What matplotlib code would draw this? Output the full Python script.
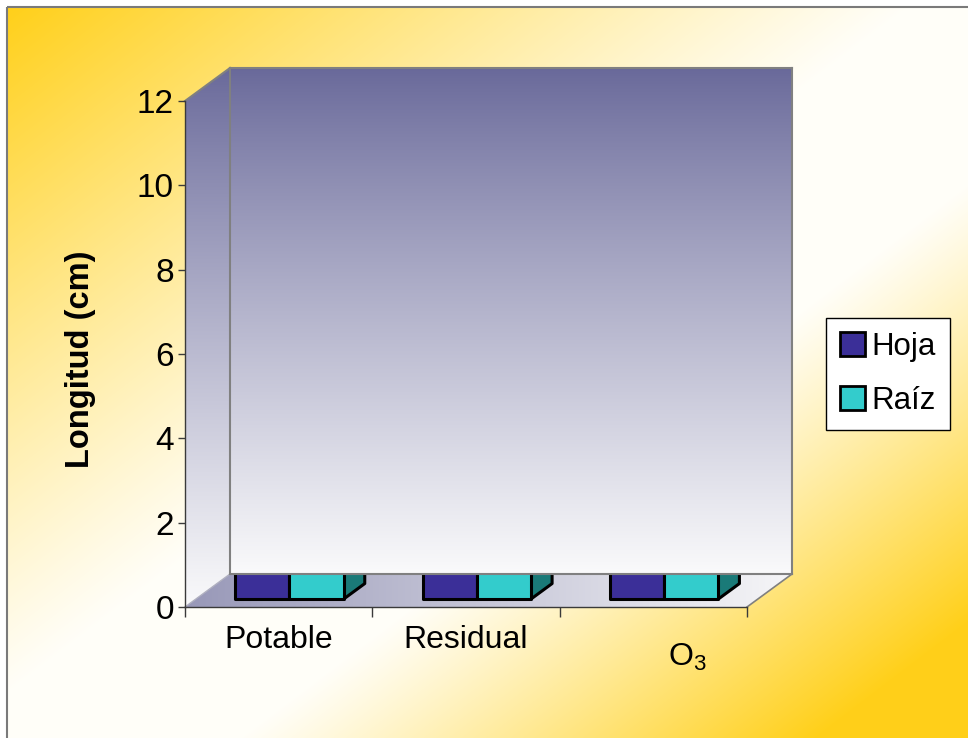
import numpy as np
import matplotlib
matplotlib.use('Agg')
import matplotlib.pyplot as plt
from matplotlib.patches import Polygon, Patch
from matplotlib.transforms import ScaledTranslation

# ---------------- data ----------------
categories = ['Potable', 'Residual', 'O$_3$']
series = ['Hoja', 'Raíz']
hoja = [1.0, 1.0, 1.0]   # bar tops are hidden behind the back wall in the reference
raiz = [1.0, 1.0, 1.0]
yticks = [0, 2, 4, 6, 8, 10, 12]
ylabel = 'Longitud (cm)'

plt.rcParams['font.family'] = ['Liberation Sans', 'DejaVu Sans']
plt.rcParams['mathtext.fontset'] = 'custom'
plt.rcParams['mathtext.rm'] = 'Liberation Sans'
plt.rcParams['mathtext.it'] = 'Liberation Sans'

W, H = 968, 738
fig = plt.figure(figsize=(W / 100, H / 100), dpi=100)

# front plane of the 3D box (pixels, top-down) and depth offset
FX0, FX1, FY0, FY1 = 185, 747, 607, 101
DX, DY = 45, 33

# ---------------- background axes (pixel coords, top-down) ----------------
bg = fig.add_axes([0, 0, 1, 1], zorder=0)
bg.set_xlim(0, W)
bg.set_ylim(H, 0)
bg.axis('off')

yy, xx = np.mgrid[0:H, 0:W]
t = (xx / W + yy / H) / 2.0
f = np.clip((0.47 - t) / 0.47, 0, 1) ** 1.1 + np.clip((t - 0.62) / 0.30, 0, 1) ** 1.1
f = np.clip(f, 0, 1)[..., None]
yellow = np.array([1.0, 0.815, 0.10])
white = np.array([1.0, 0.997, 0.975])
img = white * (1 - f) + yellow * f
bg.imshow(img, extent=[7, W, H, 7], origin='upper', aspect='auto', zorder=0,
          interpolation='bilinear')
bg.plot([7, 7], [H, 7], color='#7a7a7a', lw=1.5, zorder=1, solid_capstyle='butt')
bg.plot([7, W], [7, 7], color='#7a7a7a', lw=1.5, zorder=1, solid_capstyle='butt')

wall_top = np.array([0x69, 0x69, 0x9a]) / 255.0
wall_bot = np.array([0xfa, 0xfa, 0xfb]) / 255.0


def vgrad(n=256, p=0.9):
    s = np.linspace(0, 1, n) ** p
    g = wall_top * (1 - s[:, None]) + wall_bot * s[:, None]
    return g[:, None, :]


# side (left) wall
side = Polygon([(FX0, FY0), (FX0, FY1), (FX0 + DX, FY1 - DY), (FX0 + DX, FY0 - DY)],
               closed=True, facecolor='none', edgecolor='none', transform=bg.transData)
bg.add_patch(side)
im = bg.imshow(vgrad(), extent=[FX0, FX0 + DX, FY0, FY1 - DY], origin='upper',
               aspect='auto', zorder=2)
im.set_clip_path(side)

# floor
floor = Polygon([(FX0, FY0), (FX1, FY0), (FX1 + DX, FY0 - DY), (FX0 + DX, FY0 - DY)],
                closed=True, facecolor='none', edgecolor='none', transform=bg.transData)
bg.add_patch(floor)
s = np.linspace(0, 1, 256)
fl_l = np.array([0x98, 0x98, 0xb8]) / 255.0
fl_r = np.array([0xf6, 0xf6, 0xf8]) / 255.0
fg = (fl_l * (1 - s[:, None]) + fl_r * s[:, None])[None, :, :]
im2 = bg.imshow(fg, extent=[FX0, FX1 + DX, FY0, FY0 - DY], origin='upper',
                aspect='auto', zorder=2)
im2.set_clip_path(floor)

edge_c = '#808080'
bg.plot([FX0, FX0 + DX], [FY1, FY1 - DY], color=edge_c, lw=1.5, zorder=3)
bg.plot([FX1, FX1 + DX], [FY0, FY0 - DY], color=edge_c, lw=1.2, zorder=3)
bg.plot([FX0, FX0 + DX], [FY0, FY0 - DY], color='#b0b0c0', lw=1.0, zorder=3)

# ---------------- main axes (front plane) ----------------
ax = fig.add_axes([FX0 / W, (H - FY0) / H, (FX1 - FX0) / W, (FY0 - FY1) / H], zorder=1)
ax.set_xlim(0, 3)
ax.set_ylim(0, 12)
ax.patch.set_visible(False)
for sp in ['top', 'right']:
    ax.spines[sp].set_visible(False)
for sp in ['left', 'bottom']:
    ax.spines[sp].set_color('#3a3a3a')
    ax.spines[sp].set_linewidth(1.0)

ax.set_yticks(yticks)
ax.set_yticklabels([str(v) for v in yticks])
ax.tick_params(axis='y', direction='out', length=5, width=1, color='#3a3a3a',
               labelsize=24, pad=3)
ax.set_xticks([0, 1, 2, 3])
ax.set_xticklabels([])
ax.tick_params(axis='x', which='major', direction='out', length=7, width=1, color='#3a3a3a')
ax.set_xticks([0.5, 1.5, 2.5], minor=True)
ax.set_xticklabels(categories, minor=True)
ax.tick_params(axis='x', which='minor', length=0, labelsize=23, pad=13)
labs = ax.xaxis.get_minorticklabels()
labs[2].set_transform(labs[2].get_transform() +
                      ScaledTranslation(0.34, -0.17, fig.dpi_scale_trans))

fig.text(81 / W, 1 - 359 / H, ylabel, rotation=90, ha='center', va='center',
         fontsize=23.5, fontweight='bold')

# bars (3D boxes)
bw = 0.289
d1, d2 = 0.24, 0.71
front_off = ScaledTranslation(DX * d1 / 100, DY * d1 / 100, fig.dpi_scale_trans)
inv = ax.transData.inverted()


def shift(x, y, d):
    p = ax.transData.transform((x, y)) + np.array([DX * d, DY * d])
    return inv.transform(p)


cols_front = ['#3b2f98', '#33cccc']
cols_side = ['#1e1860', '#1a7a78']
cols_top = ['#5b50b8', '#7ae0e0']
x_idx = np.arange(len(categories))
for j, vals in enumerate([hoja, raiz]):
    lefts = x_idx + 0.5 - bw + j * bw
    for xl, v in zip(lefts, vals):
        xr = xl + bw
        side_poly = [shift(xr, 0, d1), shift(xr, 0, d2), shift(xr, v, d2), shift(xr, v, d1)]
        top_poly = [shift(xl, v, d1), shift(xr, v, d1), shift(xr, v, d2), shift(xl, v, d2)]
        ax.add_patch(Polygon(side_poly, closed=True, facecolor=cols_side[j],
                             edgecolor='black', lw=2.2, joinstyle='round',
                             clip_on=False, zorder=2 + j))
        ax.add_patch(Polygon(top_poly, closed=True, facecolor=cols_top[j],
                             edgecolor='black', lw=2.2, joinstyle='round',
                             clip_on=False, zorder=2 + j))
    bars = ax.bar(lefts, vals, width=bw, align='edge', color=cols_front[j],
                  edgecolor='black', linewidth=2.2, zorder=3 + j,
                  transform=ax.transData + front_off)
    for b in bars:
        b.set_clip_on(False)
        b.set_joinstyle('round')

# ---------------- back wall (covers the bars, as in the reference) ----------------
wall = fig.add_axes([(FX0 + DX) / W, (H - FY0 + DY) / H, (FX1 - FX0) / W, (FY0 - FY1) / H],
                    zorder=2)
wall.set_xlim(0, 3)
wall.set_ylim(0, 12)
wall.imshow(vgrad(), extent=[0, 3, 0, 12], origin='upper', aspect='auto')
wall.set_xticks([])
wall.set_yticks([])
for sp in wall.spines.values():
    sp.set_color(edge_c)
    sp.set_linewidth(1.5)

# ---------------- legend ----------------
handles = [Patch(facecolor=c, edgecolor='black', linewidth=2.0) for c in cols_front]
leg = fig.legend(handles, series, loc='center', bbox_to_anchor=(888 / W, 1 - 374 / H),
                 frameon=True, fancybox=False, edgecolor='black', facecolor='white',
                 framealpha=1, fontsize=22.5, handlelength=0.8, handleheight=0.8,
                 handletextpad=0.2, labelspacing=0.75, borderpad=0.45,
                 borderaxespad=0)
leg.get_frame().set_linewidth(1.0)

fig.savefig('out.png', dpi=100)
